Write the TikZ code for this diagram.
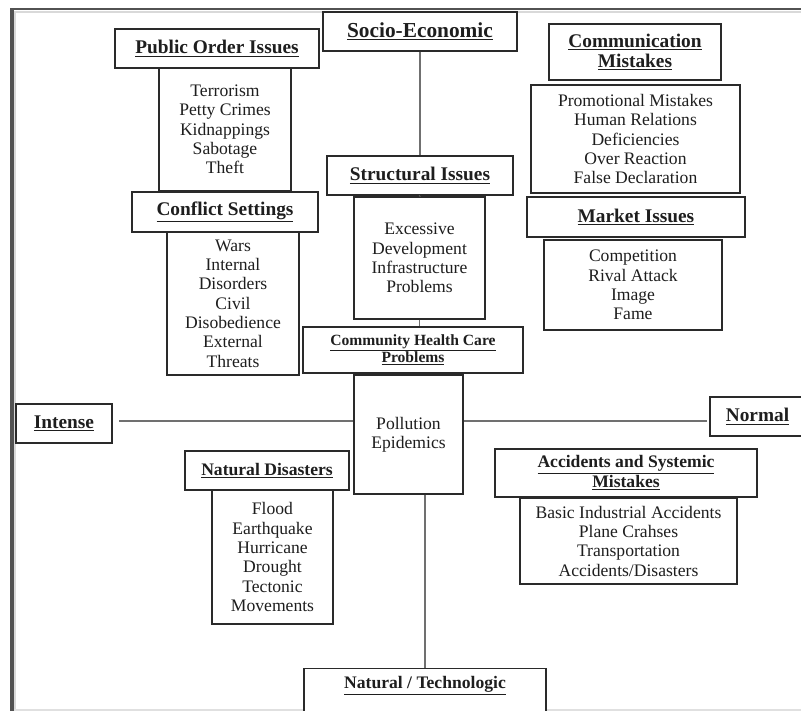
\documentclass[tikz,border=0pt]{standalone}
\usepackage{fontspec}
\setmainfont{Liberation Serif}
\usetikzlibrary{calc}
\definecolor{boxc}{HTML}{2A2A2A}
\definecolor{txtc}{HTML}{1E1E1E}
\definecolor{axc}{HTML}{707070}
\begin{document}
\begin{tikzpicture}[x=0.75pt,y=-0.75pt,
  box/.style={draw=boxc, line width=1.1pt, inner sep=0pt, align=center, text=txtc, fill=white},
  wh/.style 2 args={minimum width=#1*0.75pt, minimum height=#2*0.75pt},
  list/.style={box, font=\fontsize{13.2}{14.5}\selectfont},
  head/.style={box, font=\fontsize{14.5}{15}\selectfont\bfseries},
  heads/.style={box, font=\fontsize{13.2}{13.5}\selectfont\bfseries},
  axis/.style={draw=axc, line width=1.1pt}]
\useasboundingbox (0,0) rectangle (801,711);
\fill[white] (0,0) rectangle (801,711);
% frame
\draw[line width=1.2pt, black!15] (15,12) -- (15,711);
\draw[line width=1.2pt, black!15] (14,12) -- (801,12);
\draw[line width=1.5pt, black!12] (14,709.5) -- (801,709.5);
\draw[line width=2.3pt, black!68] (12,8) -- (12,711);
\draw[line width=1.8pt, black!68] (11,9) -- (801,9);

% coordinates for axis free ends
\coordinate (axL) at (119,421);
\coordinate (axR) at (707,421);

% nodes
\node[head, wh={194}{39}, font=\fontsize{16}{17}\selectfont\bfseries] (socio) at (420,31.5) {\underline{Socio-Economic}};
\node[head, wh={204}{39}] (pubhead) at (217,48.5) {\underline{Public Order Issues}};
\node[list, wh={132}{123}] (publist) at (225,129.5) {Terrorism\\Petty Crimes\\Kidnappings\\Sabotage\\Theft};
\node[head, wh={172}{56}] (commhead) at (635,52) {\underline{Communication}\\\underline{Mistakes}};
\node[list, wh={209}{108}] (commlist) at (635.5,139) {Promotional Mistakes\\Human Relations\\Deficiencies\\Over Reaction\\False Declaration};
\node[head, wh={186}{39}] (struchead) at (420,175.5) {\underline{Structural Issues}};
\node[list, wh={131}{122}] (struclist) at (419.5,258) {Excessive\\Development\\Infrastructure\\Problems};
\node[head, wh={186}{40}] (confhead) at (225,212) {\underline{Conflict Settings}};
\node[list, wh={132}{143}] (conflist) at (233,303.5) {Wars\\Internal\\Disorders\\Civil\\Disobedience\\External\\Threats};
\node[head, wh={218}{40}] (markhead) at (636,217) {\underline{Market Issues}};
\node[list, wh={178}{90}] (marklist) at (633,285) {Competition\\Rival Attack\\Image\\Fame};
\node[box, wh={220}{46}, font=\fontsize{11.7}{12.8}\selectfont\bfseries] (commhealth) at (413,350) {\underline{Community Health Care}\\\underline{Problems}};
\node[list, wh={109}{119}] (pollution) at (408.5,434.5) {Pollution\\Epidemics};
\node[head, wh={96}{39}] (intense) at (64,423.5) {\underline{Intense}};
\node[head, wh={95}{39}] (normal) at (757.5,416.5) {\underline{Normal}};
\node[heads, wh={164}{39}] (natdishead) at (267,470.5) {\underline{Natural Disasters}};
\node[list, wh={121}{134}] (natdislist) at (272.5,557) {Flood\\Earthquake\\Hurricane\\Drought\\Tectonic\\Movements};
\node[heads, wh={262}{48}] (acchead) at (626,473) {\underline{Accidents and Systemic}\\\underline{Mistakes}};
\node[list, wh={217}{86}] (acclist) at (628.5,541) {Basic Industrial Accidents\\Plane Crahses\\Transportation\\Accidents/Disasters};
\node[heads, anchor=north, minimum width=242*0.75pt, text height=20*0.75pt, text depth=42*0.75pt] (nattech) at (425,668) {\underline{Natural / Technologic}};

% connectors
\draw[axis] (socio.south) -- (struchead.north);
\draw[axis] (struchead.south) -- (struclist.north);
\draw[axis] (struclist.south) -- (struclist.south |- commhealth.north);
\draw[axis] (axL) -- (axL -| pollution.west);
\draw[axis] (axR) -- (axR -| pollution.east);
\draw[axis] (nattech.north |- pollution.south) -- (nattech.north);
\end{tikzpicture}
\end{document}
